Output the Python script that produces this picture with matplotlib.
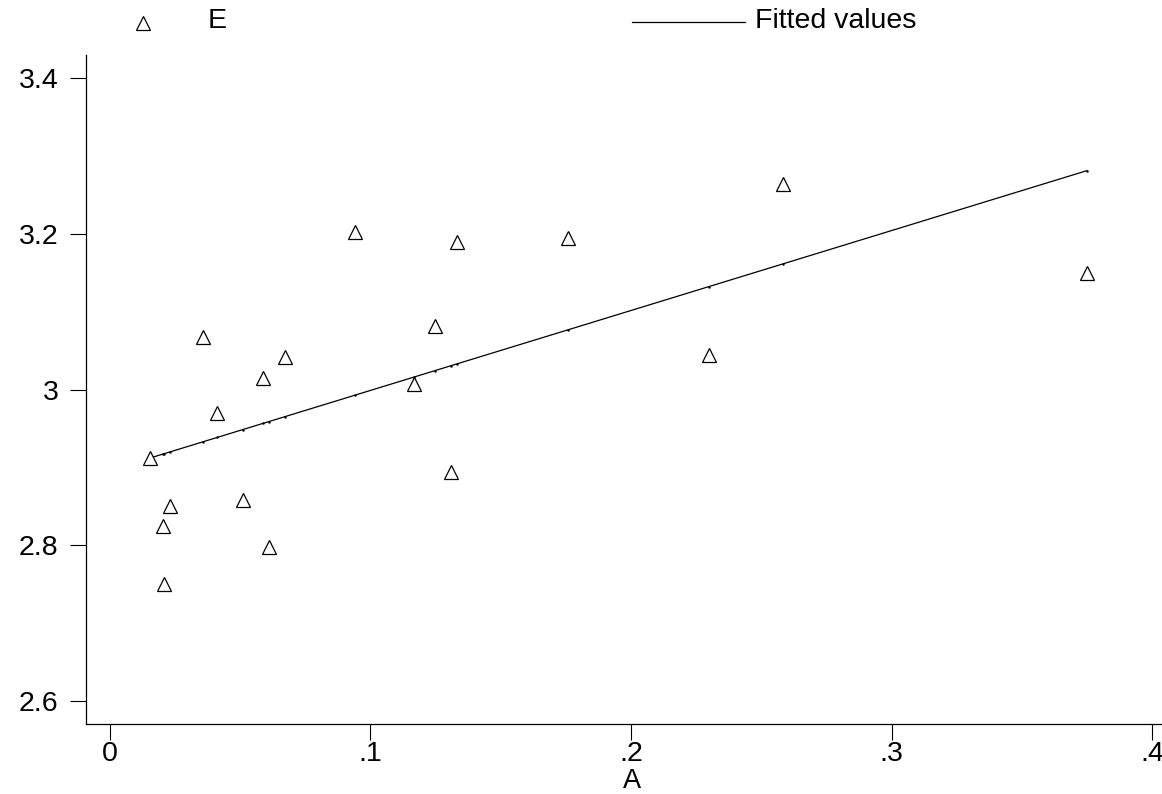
import numpy as np
import matplotlib
matplotlib.use("Agg")
import matplotlib.pyplot as plt
from matplotlib.lines import Line2D

plt.rcParams['font.family'] = ['Liberation Sans', 'DejaVu Sans']

# Data
A = [0.0154, 0.0203, 0.0207, 0.0230, 0.0357, 0.0411, 0.0511, 0.0587, 0.0610,
     0.0672, 0.0940, 0.1167, 0.1248, 0.1309, 0.1332, 0.1758, 0.2299, 0.2584, 0.3750]
E = [2.912, 2.825, 2.750, 2.850, 3.067, 2.970, 2.858, 3.015, 2.798,
     3.042, 3.202, 3.007, 3.082, 2.894, 3.189, 3.195, 3.044, 3.264, 3.150]
x_ticks = [0, 0.1, 0.2, 0.3, 0.4]
x_tick_labels = ["0", ".1", ".2", ".3", ".4"]
y_ticks = [2.6, 2.8, 3.0, 3.2, 3.4]
y_tick_labels = ["2.6", "2.8", "3", "3.2", "3.4"]

A_arr = np.array(A)
E_arr = np.array(E)
slope, intercept = np.polyfit(A_arr, E_arr, 1)
order = np.argsort(A_arr)
fitted = intercept + slope * A_arr[order]

FS = 20.5
W, H = 1162, 794
fig = plt.figure(figsize=(W / 100, H / 100), dpi=100)
ax = fig.add_axes([85.7 / W, 1 - 724 / H, 1 - 85.7 / W, (724 - 55) / H])

ax.plot(A_arr, E_arr, linestyle='none', marker='^', markersize=9.5,
        markerfacecolor='white', markeredgecolor='black', markeredgewidth=0.9, zorder=3)
ax.plot(A_arr[order], fitted, color='black', linewidth=0.9, marker='.', markersize=1.5, zorder=2)

ax.set_xlim(-0.0093, 0.4038)
ax.set_ylim(2.5705, 3.4295)
ax.set_xticks(x_ticks)
ax.set_xticklabels(x_tick_labels)
ax.set_yticks(y_ticks)
ax.set_yticklabels(y_tick_labels)
ax.tick_params(axis='both', direction='out', length=11.5, width=0.8, labelsize=FS,
               colors='black')
ax.tick_params(axis='y', pad=8)
ax.tick_params(axis='x', pad=1)
for s in ['top', 'right']:
    ax.spines[s].set_visible(False)
for s in ['left', 'bottom']:
    ax.spines[s].set_linewidth(0.9)
ax.set_xlabel("A", fontsize=19.5, va='bottom')
ax.xaxis.set_label_coords(632 / W, 1 - 793.5 / H, transform=fig.transFigure)

# Legend (top)
ly = 1 - 21 / H
fig.add_artist(Line2D([143 / W], [1 - 23 / H], marker='^', markersize=9.5, linestyle='none',
                      markerfacecolor='white', markeredgecolor='black', markeredgewidth=0.9,
                      transform=fig.transFigure))
fig.text(208 / W, ly, "E", fontsize=FS, va='center', ha='left')
fig.add_artist(Line2D([632 / W, 745 / W], [1 - 22 / H, 1 - 22 / H], color='black', linewidth=0.9,
                      transform=fig.transFigure))
fig.text(755 / W, ly, "Fitted values", fontsize=FS, va='center', ha='left')

fig.savefig("out.png", dpi=100)
